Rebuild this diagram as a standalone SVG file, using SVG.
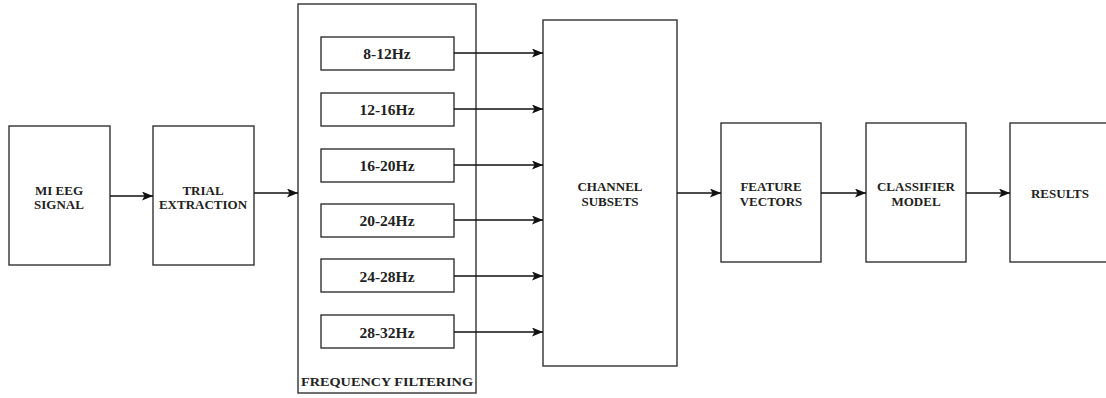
<svg xmlns="http://www.w3.org/2000/svg" width="1106" height="398" viewBox="0 0 1106 398">
<defs>
<marker id="arr" markerWidth="11" markerHeight="9" refX="11" refY="4.5" orient="auto" markerUnits="userSpaceOnUse">
<path d="M0,0 L11,4.5 L0,9 L2.5,4.5 Z" fill="#111"/>
</marker>
</defs>
<style>
.box{fill:#fff;stroke:#333;stroke-width:1.4}
.t{font-family:"Liberation Serif","Times New Roman",serif;font-weight:bold;font-size:13px;fill:#222;text-anchor:middle}
.f{font-size:15.5px}
.c{stroke:#111;stroke-width:1.3;fill:none;marker-end:url(#arr)}
</style>
<rect width="1106" height="398" fill="#fff"/>
<g id="mi-eeg">
<rect class="box" x="9" y="126" width="101" height="139"/>
<text class="t" x="59" y="195">MI EEG</text>
<text class="t" x="59" y="209">SIGNAL</text>
</g>
<g id="trial">
<rect class="box" x="153" y="126" width="101" height="139"/>
<text class="t" x="203" y="195">TRIAL</text>
<text class="t" x="203" y="209">EXTRACTION</text>
</g>
<g id="freq-filtering">
<rect class="box" x="298" y="4" width="178" height="389"/>
<text class="t" x="387" y="386" textLength="172" lengthAdjust="spacingAndGlyphs">FREQUENCY FILTERING</text>
</g>
<g id="f8-12"><rect class="box" x="321" y="37" width="133" height="33"/><text class="t f" x="387" y="59">8-12Hz</text></g>
<g id="f12-16"><rect class="box" x="321" y="93" width="133" height="33"/><text class="t f" x="387" y="115">12-16Hz</text></g>
<g id="f16-20"><rect class="box" x="321" y="149" width="133" height="33"/><text class="t f" x="387" y="171">16-20Hz</text></g>
<g id="f20-24"><rect class="box" x="321" y="204" width="133" height="33"/><text class="t f" x="387" y="226">20-24Hz</text></g>
<g id="f24-28"><rect class="box" x="321" y="259" width="133" height="33"/><text class="t f" x="387" y="282">24-28Hz</text></g>
<g id="f28-32"><rect class="box" x="321" y="315" width="133" height="33"/><text class="t f" x="387" y="338">28-32Hz</text></g>
<g id="channel">
<rect class="box" x="543" y="20" width="134" height="346"/>
<text class="t" x="610" y="191">CHANNEL</text>
<text class="t" x="610" y="206">SUBSETS</text>
</g>
<g id="feature">
<rect class="box" x="721" y="123" width="100" height="139"/>
<text class="t" x="771" y="191">FEATURE</text>
<text class="t" x="771" y="206">VECTORS</text>
</g>
<g id="classifier">
<rect class="box" x="866" y="123" width="100" height="139"/>
<text class="t" x="916" y="191">CLASSIFIER</text>
<text class="t" x="916" y="206">MODEL</text>
</g>
<g id="results">
<rect class="box" x="1010" y="123" width="100" height="139"/>
<text class="t" x="1060" y="198">RESULTS</text>
</g>
<g id="connectors">
<line class="c" x1="110" y1="196" x2="153" y2="196"/>
<line class="c" x1="254" y1="193" x2="298" y2="193"/>
<line class="c" x1="454" y1="53" x2="543" y2="53"/>
<line class="c" x1="454" y1="109" x2="543" y2="109"/>
<line class="c" x1="454" y1="165" x2="543" y2="165"/>
<line class="c" x1="454" y1="220" x2="543" y2="220"/>
<line class="c" x1="454" y1="276" x2="543" y2="276"/>
<line class="c" x1="454" y1="332" x2="543" y2="332"/>
<line class="c" x1="677" y1="193" x2="721" y2="193"/>
<line class="c" x1="821" y1="193" x2="866" y2="193"/>
<line class="c" x1="966" y1="193" x2="1010" y2="193"/>
</g>
</svg>
